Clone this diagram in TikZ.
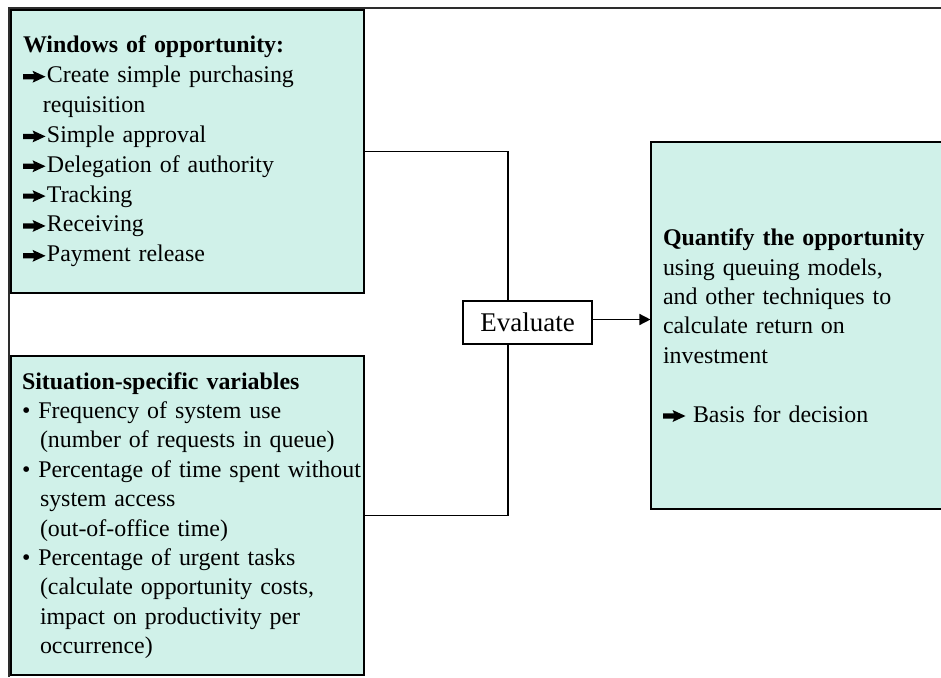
\documentclass[tikz,border=0pt]{standalone}
\usepackage{fontspec}
\setmainfont{Liberation Serif}
\usetikzlibrary{arrows.meta}
\definecolor{boxfill}{RGB}{208,241,233}
\definecolor{framegray}{RGB}{45,45,45}
\newcommand\harr{\tikz[x=1pt,y=1pt,baseline=0pt]{\fill[black] (0,3.4) -- (11,3.4) .. controls (10.5,2) .. (9.5,0) -- (22.5,6) -- (9.5,12) .. controls (10.5,10) .. (11,8.6) -- (0,8.6) -- cycle;}\hspace{1.5pt}}
\tikzset{
  txt/.style={font=\fontsize{23.9}{29.4}\selectfont},
  infobox/.style={txt, draw=black, line width=1.1pt, fill=boxfill, align=left, inner ysep=0pt},
  conn/.style={draw=black, line width=1.4pt},
  framestyle/.style={draw=framegray, line width=2.5pt}
}
\begin{document}
\begin{tikzpicture}[x=1pt,y=-1pt]
\clip (0,0) rectangle (941,677);
\fill[white] (0,0) rectangle (941,677);
% page frame
\draw[framestyle] (9,677) -- (9,8) -- (941,8);
% boxes
\node[infobox, font=\fontsize{23.9}{29.85}\selectfont, minimum width=353pt, minimum height=283pt, text width=329pt, inner xsep=12pt] (win) at (187.5,151.5)
  {\textbf{Windows of opportunity:}\\
   \harr Create simple purchasing\\
   \hspace*{20pt}requisition\\
   \harr Simple approval\\
   \harr Delegation of authority\\
   \harr Tracking\\
   \harr Receiving\\
   \harr Payment release};
\node[infobox, minimum width=353pt, minimum height=319pt, text width=331pt, inner xsep=11pt] (sit) at (187.5,515.5)
  {\textbf{Situation-specific variables}\\
   • Frequency of system use\\
   \hspace*{18pt}(number of requests in queue)\\
   \mbox{• Percentage of time spent without}\\
   \hspace*{18pt}system access\\
   \hspace*{18pt}(out-of-office time)\\
   • Percentage of urgent tasks\\
   \hspace*{18pt}(calculate opportunity costs,\\
   \hspace*{18pt}impact on productivity per\\
   \hspace*{18pt}occurrence)};
\node[infobox, minimum width=300pt, minimum height=367pt, text width=276pt, inner xsep=12pt] (quant) at (801,325.5)
  {\textbf{Quantify the opportunity}\\
   using queuing models,\\
   and other techniques to\\
   calculate return on\\
   investment\\[29.4pt]
   \harr\hspace{6pt}Basis for decision};
\node[draw=black, line width=1.1pt, fill=white, font=\fontsize{27}{32}\selectfont, minimum width=129pt, minimum height=43pt, inner sep=0pt] (eval) at (527.5,322.5) {Evaluate};
% connectors
\draw[conn] (win.east) -| ([xshift=-19.5pt]eval.north);
\draw[conn] (sit.east) -| ([xshift=-19.5pt]eval.south);
\draw[conn, -{Triangle[length=11pt,width=11pt]}] ([yshift=3pt]eval.east) -- ([yshift=3pt]eval.east -| quant.west);
\end{tikzpicture}
\end{document}
